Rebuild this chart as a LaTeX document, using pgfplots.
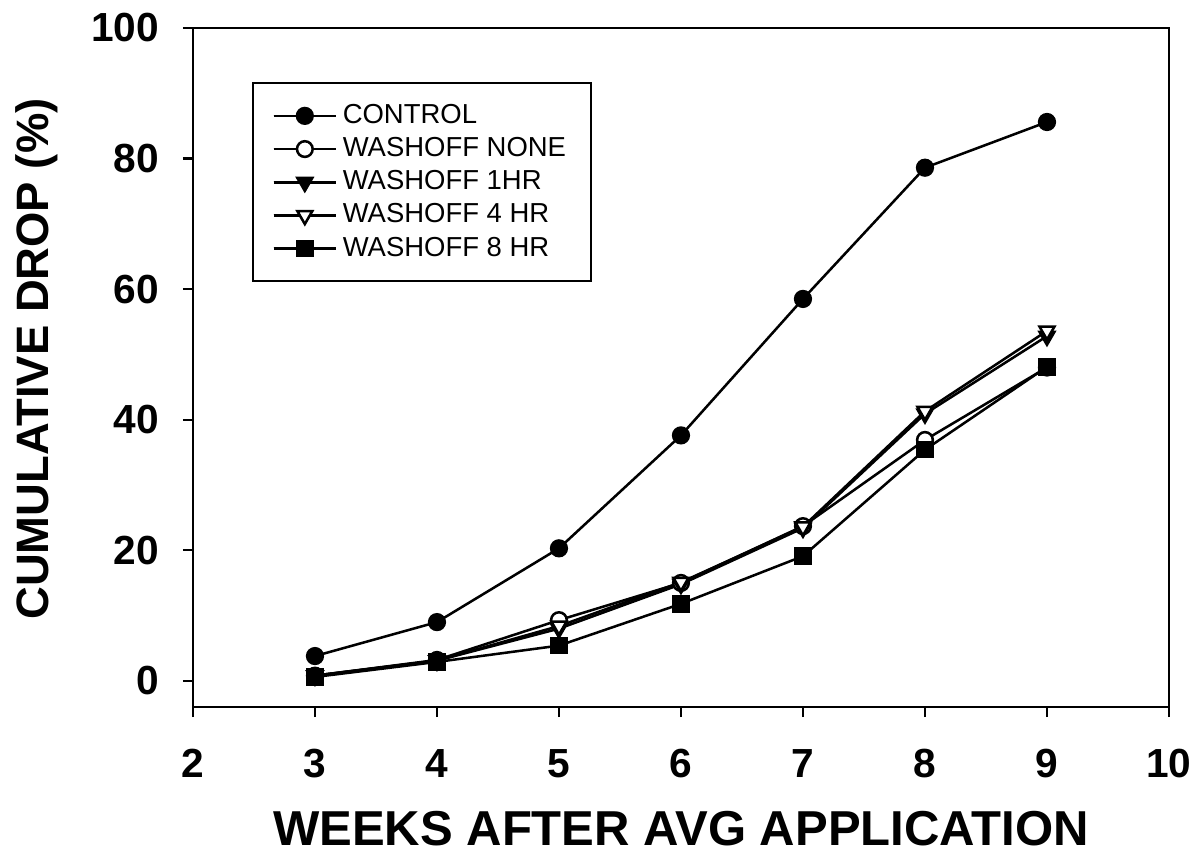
\documentclass[border=0pt]{standalone}
\usepackage{fontspec}
\setmainfont{Liberation Sans}
\usepackage{pgfplots}
\pgfplotsset{compat=1.18}

\begin{document}
\begin{tikzpicture}
\begin{axis}[
  name=ax,
  scale only axis,
  width=12.24cm, height=8.515cm,
  xmin=2, xmax=10, ymin=-4, ymax=100,
  xtick={2,3,...,10}, ytick={0,20,...,100},
  axis line style={line width=1pt},
  tick style={line width=0.8pt, black},
  tick align=outside, major tick length=3.6pt,
  xtick pos=bottom, ytick pos=left,
  /pgf/number format/assume math mode=true,
  tick label style={font=\fontsize{14.5}{16}\selectfont\bfseries},
  xticklabel style={yshift=-8pt},
  yticklabel style={xshift=-5pt},
  xlabel={WEEKS AFTER AVG APPLICATION},
  ylabel={CUMULATIVE DROP (\%)},
  xlabel style={font=\fontsize{17.5}{20}\selectfont\bfseries, yshift=-5pt},
  ylabel style={font=\fontsize{16.2}{19}\selectfont\bfseries, yshift=5pt, xshift=3pt},
  legend cell align=left,
  legend style={at={(0.0605,0.92)}, anchor=north west, draw=black, line width=0.6pt,
    font=\fontsize{9.8}{11}\selectfont, row sep=-0.5pt, inner xsep=7pt, inner ysep=5.5pt},
  legend image code/.code={\draw[#1] (0cm,0cm) -- (0.78cm,0cm); \draw[#1, mark repeat=2, mark phase=2] plot coordinates {(0cm,0cm) (0.39cm,0cm) (0.78cm,0cm)};},
  every axis plot/.append style={line width=0.9pt, black, mark size=2.8pt},
]
\addplot[mark=*, mark options={fill=black}] coordinates {(3,3.8)(4,9.0)(5,20.3)(6,37.6)(7,58.5)(8,78.6)(9,85.6)};
\addlegendentry{CONTROL}
\addplot[mark=*, mark options={fill=white}] coordinates {(3,0.8)(4,3.2)(5,9.3)(6,15.0)(7,23.7)(8,36.9)(9,48.0)};
\addlegendentry{WASHOFF NONE}
\addplot[mark=triangle*, mark options={fill=black, rotate=180, scale=1.1}] coordinates {(3,0.8)(4,3.1)(5,8.0)(6,14.8)(7,23.4)(8,40.9)(9,52.8)};
\addlegendentry{WASHOFF 1HR}
\addplot[mark=triangle*, mark options={fill=white, rotate=180, scale=1.1}] coordinates {(3,0.8)(4,3.1)(5,8.4)(6,15.1)(7,23.6)(8,41.3)(9,53.6)};
\addlegendentry{WASHOFF 4 HR}
\addplot[mark=square*, mark options={fill=black, scale=0.95}] coordinates {(3,0.6)(4,2.9)(5,5.4)(6,11.8)(7,19.1)(8,35.4)(9,48.1)};
\addlegendentry{WASHOFF 8 HR}
\end{axis}
\pgfresetboundingbox
\path[use as bounding box] ([shift={(-2.42cm,-1.906cm)}]ax.south west) rectangle ([shift={(0.339cm,0.351cm)}]ax.north east);
\end{tikzpicture}
\end{document}
